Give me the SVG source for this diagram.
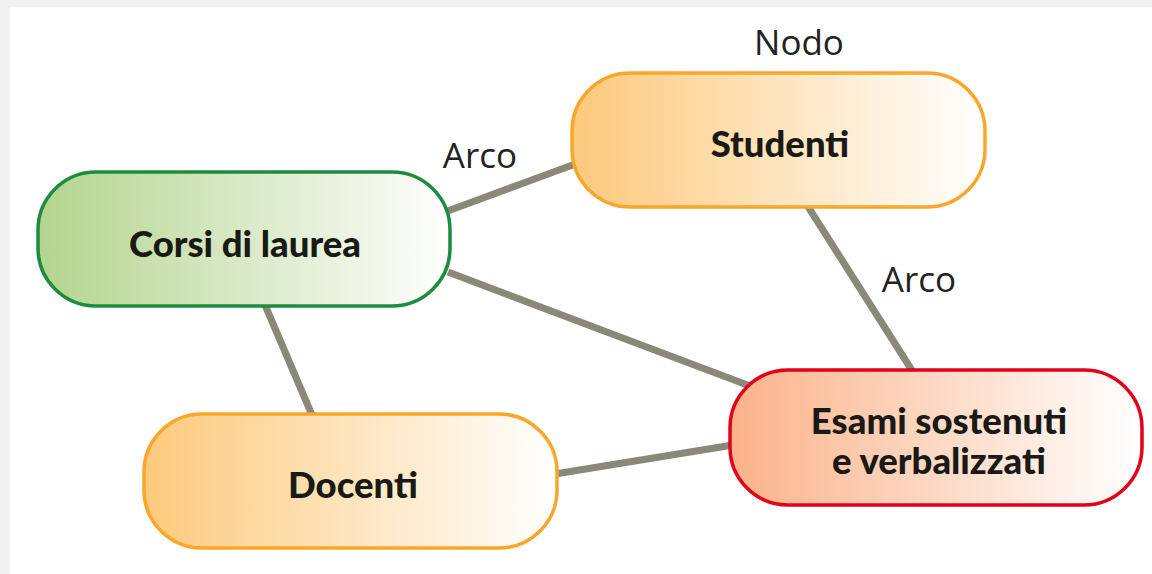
<svg xmlns="http://www.w3.org/2000/svg" width="1152" height="574" viewBox="0 0 1152 574">
  <defs>
    <linearGradient id="gGreen" x1="0" y1="0" x2="1" y2="0">
      <stop offset="0" stop-color="#b3d48e"/>
      <stop offset="1" stop-color="#ffffff"/>
    </linearGradient>
    <linearGradient id="gOrange" x1="0" y1="0" x2="1" y2="0">
      <stop offset="0" stop-color="#fdc97c"/>
      <stop offset="1" stop-color="#ffffff"/>
    </linearGradient>
    <linearGradient id="gRed" x1="0" y1="0" x2="1" y2="0">
      <stop offset="0" stop-color="#fbb28a"/>
      <stop offset="1" stop-color="#ffffff"/>
    </linearGradient>
  </defs>
  <style>
    .edge { stroke: #8a8878; stroke-width: 7; fill: none; }
    .node { stroke-width: 3.5; }
    .ntext { font-family: Lato, "Open Sans", "Liberation Sans", sans-serif; font-weight: 900; font-size: 36.5px; fill: #1a1a14; text-anchor: middle; }
    .label { font-family: "Open Sans", "Liberation Sans", sans-serif; font-size: 35px; fill: #222222; text-anchor: middle; }
  </style>
  <rect x="0" y="0" width="1152" height="574" fill="#f1f1f1"/>
  <rect x="10" y="7" width="1142" height="567" fill="#ffffff"/>

  <g id="connectors">
    <line class="edge" x1="445" y1="212" x2="578" y2="163"/>
    <line class="edge" x1="448" y1="272" x2="750" y2="386"/>
    <line class="edge" x1="265" y1="305" x2="312" y2="415"/>
    <line class="edge" x1="807" y1="205" x2="913" y2="372"/>
    <line class="edge" x1="555" y1="474" x2="733" y2="445"/>
  </g>

  <g id="label-nodo"><text class="label" x="799" y="55">Nodo</text></g>
  <g id="label-arco1"><text class="label" x="480" y="168">Arco</text></g>
  <g id="label-arco2"><text class="label" x="919" y="292">Arco</text></g>

  <g id="node-corsi">
    <rect class="node" x="38" y="172" width="412" height="134" rx="58" fill="url(#gGreen)" stroke="#1e8c3e"/>
    <text class="ntext" x="245" y="257">Corsi di laurea</text>
  </g>
  <g id="node-studenti">
    <rect class="node" x="572" y="73" width="413" height="134" rx="58" fill="url(#gOrange)" stroke="#f8a72a"/>
    <text class="ntext" x="780" y="157">Studenti</text>
  </g>
  <g id="node-esami">
    <rect class="node" x="730" y="370" width="412" height="135" rx="58" fill="url(#gRed)" stroke="#e2001a" stroke-width="4"/>
    <text class="ntext" x="939" y="434">Esami sostenuti</text>
    <text class="ntext" x="939" y="474">e verbalizzati</text>
  </g>
  <g id="node-docenti">
    <rect class="node" x="144" y="414" width="413" height="134" rx="58" fill="url(#gOrange)" stroke="#f8a72a"/>
    <text class="ntext" x="353" y="498">Docenti</text>
  </g>
</svg>
